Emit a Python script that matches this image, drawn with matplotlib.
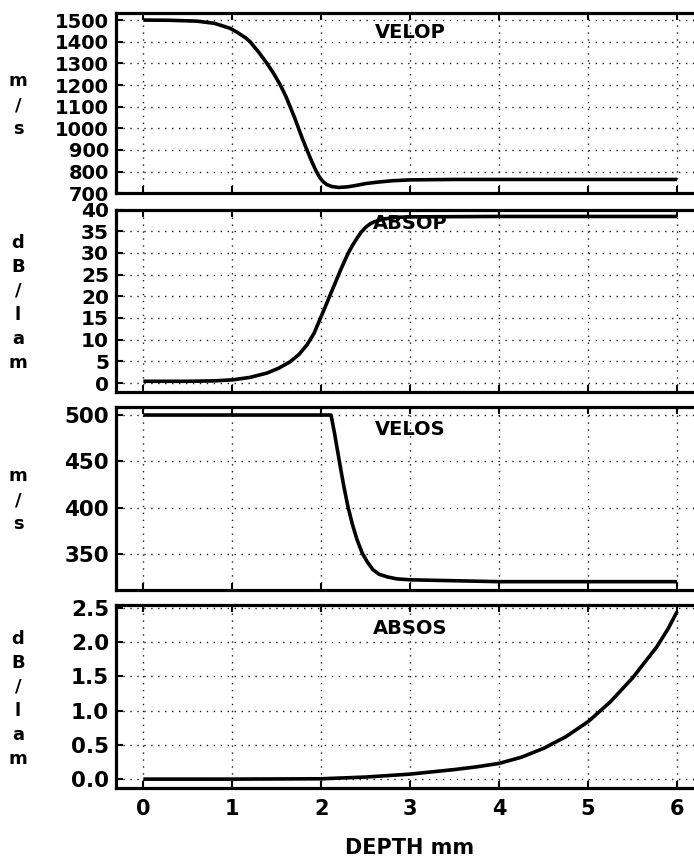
import matplotlib
matplotlib.use("Agg")
import matplotlib.pyplot as plt

# ---------------- data ----------------
velop_x = [0.0, 0.3, 0.6, 0.8, 0.975, 1.05, 1.15, 1.2, 1.3, 1.39, 1.47, 1.54, 1.60, 1.65, 1.70,
           1.745, 1.79, 1.84, 1.89, 1.94, 1.98, 2.02, 2.06, 2.12, 2.2, 2.3, 2.4, 2.5, 2.62, 2.8,
           3.0, 3.5, 4.0, 5.0, 6.0]
velop_y = [1500, 1499, 1495, 1485, 1462, 1445, 1418, 1400, 1350, 1300, 1250, 1200, 1150, 1100, 1050,
           1000, 950, 900, 850, 805, 775, 754, 741, 731, 727, 730, 737, 745, 751, 758,
           762, 764, 764, 764, 764]

absop_x = [0.0, 0.5, 0.8, 1.01, 1.2, 1.39, 1.52, 1.65, 1.75, 1.84, 1.92, 1.99, 2.05, 2.1,
           2.16, 2.21, 2.26, 2.30, 2.35, 2.40, 2.45, 2.5, 2.55, 2.6, 2.7, 2.85, 3.0, 4.0, 6.0]
absop_y = [0.4, 0.4, 0.5, 0.75, 1.3, 2.3, 3.4, 4.9, 6.6, 8.8, 11.5, 14.9, 17.8, 20.3,
           23.2, 25.7, 28.0, 29.8, 31.7, 33.3, 34.8, 35.9, 36.7, 37.2, 37.8, 38.2, 38.3, 38.4, 38.4]

velos_x = [0.0, 2.11, 2.15, 2.2, 2.25, 2.30, 2.35, 2.40, 2.46, 2.52, 2.58, 2.65, 2.75, 2.85,
           3.0, 4.0, 6.0]
velos_y = [500, 500, 480, 452, 425, 401, 382, 366, 351, 341, 333, 328, 325, 323,
           322, 320, 320]

absos_x = [0.0, 1.0, 2.0, 2.5, 3.0, 3.5, 3.75, 4.0, 4.25, 4.5, 4.75, 5.0, 5.25, 5.5, 5.77,
           5.9, 6.0]
absos_y = [0.0, 0.0, 0.005, 0.03, 0.073, 0.14, 0.18, 0.23, 0.32, 0.45, 0.62, 0.84, 1.13,
           1.48, 1.93, 2.2, 2.45]

panel_titles = ["VELOP", "ABSOP", "VELOS", "ABSOS"]
panel_units = ["m/s", "dB/lam", "m/s", "dB/lam"]
yticks_list = [list(range(700, 1501, 100)), list(range(0, 41, 5)),
               [350, 400, 450, 500], [0.0, 0.5, 1.0, 1.5, 2.0, 2.5]]
ytick_labels_list = [[str(v) for v in range(700, 1501, 100)],
                     [str(v) for v in range(0, 41, 5)],
                     ["350", "400", "450", "500"],
                     ["0.0", "0.5", "1.0", "1.5", "2.0", "2.5"]]
ylims = [(700, 1534), (-2.0, 40.0), (311, 509), (-0.13, 2.545)]
xticks = [0, 1, 2, 3, 4, 5, 6]
xtick_labels = ["0", "1", "2", "3", "4", "5", "6"]
xlabel = "DEPTH mm"

series = [(velop_x, velop_y), (absop_x, absop_y), (velos_x, velos_y), (absos_x, absos_y)]

# ---------------- layout ----------------
W, H = 694, 858
fig = plt.figure(figsize=(W / 100, H / 100), dpi=100)
fig.patch.set_facecolor("white")

# (top_px, bottom_px) of each panel
panel_px = [(12.7, 193.3), (209.5, 391.7), (406.7, 590.0), (605.0, 788.0)]
left_px = 116.0
title_yfrac = [0.888, 0.925, 0.873, 0.874]
ytick_fs = [14.0, 14.5, 15.5, 15.5]

for i, ((top, bot), (xs, ys)) in enumerate(zip(panel_px, series)):
    ax = fig.add_axes([left_px / W, (H - bot) / H, (W - left_px) / W, (bot - top) / H])
    ax.plot(xs, ys, color="black", lw=2.6, solid_capstyle="butt", zorder=3)
    ax.set_xlim(-0.307, 6.19)
    ax.set_ylim(*ylims[i])
    ax.set_xticks(xticks)
    ax.set_yticks(yticks_list[i])
    ax.set_yticklabels(ytick_labels_list[i], fontsize=ytick_fs[i], fontweight="bold")
    if i == 3:
        ax.set_xticklabels(xtick_labels, fontsize=15, fontweight="bold")
    else:
        ax.set_xticklabels([])
    ax.tick_params(axis="both", direction="in", length=5, width=1.5, color="black")
    ax.tick_params(axis="x", top=True, bottom=True, pad=8)
    ax.tick_params(axis="y", left=True, right=False, pad=5)
    ax.grid(True, linestyle=(0, (1, 4)), color="0.1", linewidth=1.0)
    for side in ["left", "top", "bottom"]:
        ax.spines[side].set_linewidth(2.3)
    ax.spines["right"].set_visible(False)
    ax.text(3.0, title_yfrac[i], panel_titles[i], transform=ax.get_xaxis_transform(),
            ha="center", va="center", fontsize=14, fontweight="bold", zorder=4)
    # stacked unit label
    cy = (top + bot) / 2 + 2
    chars = list(panel_units[i])
    step = 24.0
    y0 = cy - step * (len(chars) - 1) / 2
    for k, ch in enumerate(chars):
        fig.text(18 / W, (H - (y0 + k * step)) / H, ch, ha="center", va="center",
                 fontsize=13, fontweight="bold")

fig.text(410 / W, (H - 848) / H, xlabel, ha="center", va="center",
         fontsize=15, fontweight="bold")

fig.savefig("out.png", dpi=100)
